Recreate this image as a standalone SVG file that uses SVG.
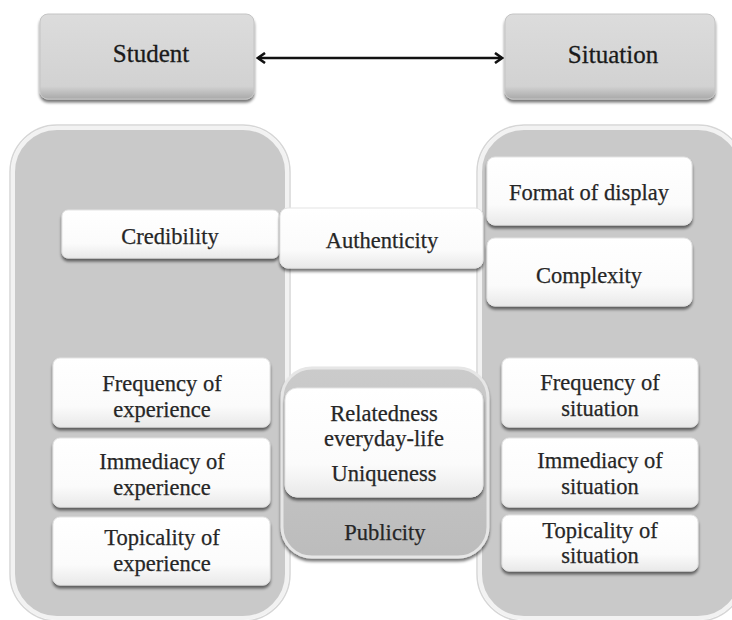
<svg xmlns="http://www.w3.org/2000/svg" width="732" height="620" viewBox="0 0 732 620">
  <defs>
    <linearGradient id="gWhite" x1="0" y1="0" x2="0" y2="1">
      <stop offset="0" stop-color="#ffffff"/>
      <stop offset="0.7" stop-color="#fbfbfb"/>
      <stop offset="1" stop-color="#e9e9e9"/>
    </linearGradient>
    <linearGradient id="gHead" x1="0" y1="0" x2="0" y2="1">
      <stop offset="0" stop-color="#dcdcdc"/>
      <stop offset="0.85" stop-color="#d2d2d2"/>
      <stop offset="1" stop-color="#a9a9a9"/>
    </linearGradient>
    <linearGradient id="gMid" x1="0" y1="0" x2="0" y2="1">
      <stop offset="0" stop-color="#cbcbcb"/>
      <stop offset="1" stop-color="#bcbcbc"/>
    </linearGradient>
    <filter id="shadow" x="-10%" y="-10%" width="120%" height="130%">
      <feGaussianBlur in="SourceAlpha" stdDeviation="1.5"/>
      <feOffset dy="2.5" result="b"/>
      <feComponentTransfer><feFuncA type="linear" slope="0.55"/></feComponentTransfer>
      <feMerge><feMergeNode/><feMergeNode in="SourceGraphic"/></feMerge>
    </filter>
    <marker id="chev" viewBox="0 0 12 12" refX="10" refY="6" markerWidth="12" markerHeight="12" markerUnits="userSpaceOnUse" orient="auto-start-reverse">
      <polyline points="3,1 10,6 3,11" fill="none" stroke="#111" stroke-width="2.6"/>
    </marker>
  </defs>
  <style>
    text { font-family: 'Liberation Serif', 'Times New Roman', serif; text-anchor: middle; }
    .t { font-size: 22.5px; fill: #262626; stroke: #262626; stroke-width: 0.25; }
    .th { font-size: 25px; fill: #1a1a1a; stroke: #1a1a1a; stroke-width: 0.3; }
    .cont { fill: #c9c9c9; stroke: #f2f2f2; stroke-width: 4; }
    .contOut { fill: none; stroke: #d6d6d6; stroke-width: 1.5; }
    .wbox { fill: url(#gWhite); stroke: #e4e4e4; stroke-width: 1; filter: url(#shadow); }
    .hbox { fill: url(#gHead); stroke: #c4c4c4; stroke-width: 1; filter: url(#shadow); }
  </style>

  <rect width="732" height="620" fill="#ffffff"/>

  <!-- header nodes -->
  <g id="student">
    <rect class="hbox" x="40" y="14" width="214" height="85" rx="8"/>
    <text class="th" x="151" y="62">Student</text>
  </g>
  <g id="situation">
    <rect class="hbox" x="505" y="14" width="210" height="85" rx="8"/>
    <text class="th" x="613" y="63">Situation</text>
  </g>

  <!-- large side containers -->
  <g id="student-panel">
    <rect class="cont" x="13" y="128" width="274" height="490" rx="44"/>
    <rect class="contOut" x="10" y="125" width="280" height="496" rx="47"/>
  </g>
  <g id="situation-panel">
    <rect class="cont" x="480" y="128" width="262" height="490" rx="44"/>
    <rect class="contOut" x="477" y="125" width="268" height="496" rx="47"/>
  </g>

  <!-- student attributes -->
  <g id="credibility">
    <rect class="wbox" x="62" y="210" width="217" height="48" rx="6"/>
    <text class="t" x="170" y="244">Credibility</text>
  </g>
  <g id="freq-exp">
    <rect class="wbox" x="53" y="358" width="217" height="69" rx="7"/>
    <text class="t" x="162" y="391">Frequency of</text>
    <text class="t" x="162" y="417">experience</text>
  </g>
  <g id="imm-exp">
    <rect class="wbox" x="53" y="438" width="217" height="69" rx="7"/>
    <text class="t" x="162" y="469">Immediacy of</text>
    <text class="t" x="162" y="495">experience</text>
  </g>
  <g id="top-exp">
    <rect class="wbox" x="53" y="517" width="217" height="68" rx="7"/>
    <text class="t" x="162" y="545">Topicality of</text>
    <text class="t" x="162" y="571">experience</text>
  </g>

  <!-- situation attributes -->
  <g id="format">
    <rect class="wbox" x="487" y="157" width="205" height="68" rx="8"/>
    <text class="t" x="589" y="200">Format of display</text>
  </g>
  <g id="complexity">
    <rect class="wbox" x="487" y="238" width="205" height="68" rx="8"/>
    <text class="t" x="589" y="283">Complexity</text>
  </g>
  <g id="freq-sit">
    <rect class="wbox" x="502" y="358" width="196" height="69" rx="7"/>
    <text class="t" x="600" y="390">Frequency of</text>
    <text class="t" x="600" y="416">situation</text>
  </g>
  <g id="imm-sit">
    <rect class="wbox" x="502" y="438" width="196" height="69" rx="7"/>
    <text class="t" x="600" y="468">Immediacy of</text>
    <text class="t" x="600" y="494">situation</text>
  </g>
  <g id="top-sit">
    <rect class="wbox" x="502" y="515" width="196" height="56" rx="7"/>
    <text class="t" x="600" y="538">Topicality of</text>
    <text class="t" x="600" y="563">situation</text>
  </g>

  <!-- shared attributes -->
  <g id="authenticity">
    <rect class="wbox" x="280" y="208" width="203" height="60" rx="8"/>
    <text class="t" x="382" y="248">Authenticity</text>
  </g>
  <g id="publicity">
    <rect x="282" y="368" width="206" height="189" rx="30" fill="url(#gMid)" stroke="#e6e6e6" stroke-width="3" filter="url(#shadow)"/>
    <text class="t" x="385" y="540">Publicity</text>
  </g>
  <g id="relatedness">
    <rect class="wbox" x="285" y="388" width="198" height="109" rx="12"/>
    <text class="t" x="384" y="421">Relatedness</text>
    <text class="t" x="384" y="446">everyday-life</text>
    <text class="t" x="384" y="481">Uniqueness</text>
  </g>

  <!-- connectors -->
  <g id="connectors">
    <line x1="258" y1="58" x2="502" y2="58" stroke="#111" stroke-width="2.6" marker-start="url(#chev)" marker-end="url(#chev)"/>
  </g>
</svg>
